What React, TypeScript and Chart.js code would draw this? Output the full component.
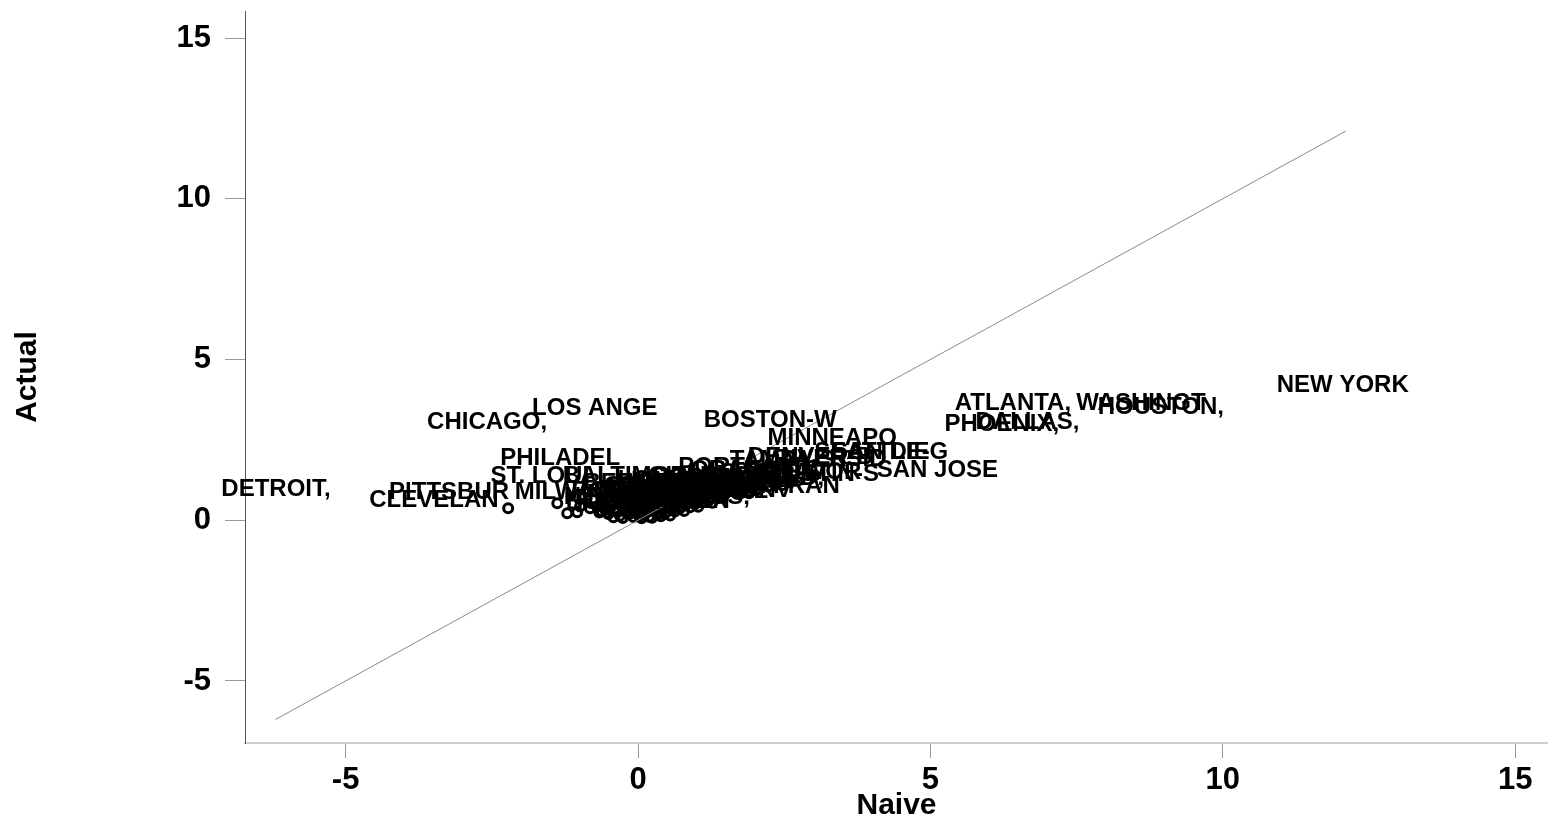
import React, { useEffect, useRef } from 'react';
import { Chart, registerables } from 'chart.js';

Chart.register(...registerables);

// labelled metro areas (names cut to 8 characters as in the source)
const cityNames = [
  'NEW YORK', 'HOUSTON,', 'WASHINGT', 'ATLANTA,', 'DALLAS,', 'PHOENIX,',
  'SAN JOSE', 'SAN DIEG', 'SEATTLE-', 'MINNEAPO', 'RIVERSID', 'DENVER-B',
  'TAMPA-ST', 'BOSTON-W', 'LOS ANGE', 'CHICAGO,', 'PHILADEL', 'ST. LOUI',
  'DETROIT,', 'PITTSBUR', 'CLEVELAN', 'MILWAUKE', 'BALTIMOR', 'PORTLAND',
  'AUSTIN-S', 'SAN FRAN', 'JACKSONV', 'KANSAS C', 'CHARLOTT', 'LAS VEGA',
  'ORLANDO,', 'SACRAMEN', 'COLUMBUS', 'INDIANAP', 'CINCINNA', 'SAN ANTO',
  'ORANGE C', 'NASSAU-S', 'NEWARK,', 'FORT WOR', 'OAKLAND,', 'NORFOLK-',
  'SALT LAK', 'RALEIGH-', 'NASHVILL', 'MIAMI, F', 'GREENSBO', 'HARTFORD',
  'BUFFALO-', 'PROVIDEN', 'ROCHESTE', 'MEMPHIS,', 'LOUISVIL', 'OKLAHOMA',
  'BERGEN-P',
];
const cityNaive = [
  12.05, 8.94, 8.6, 6.41, 6.66, 6.22,
  5.12, 4.31, 4.0, 3.32, 3.28, 2.95,
  2.6, 2.26, -0.74, -2.58, -1.33, -1.68,
  -6.19, -3.23, -3.49, -1.0, -0.22, 1.83,
  3.15, 2.39, 1.49, 0.95, 1.3, 1.9,
  1.6, 1.2, 0.6, 0.8, 0.4, 1.1,
  2.0, 0.2, -0.3, 2.7, 2.1, 0.5,
  1.4, 1.8, 1.2, 0.3, 0.7, 0.1,
  -0.2, 0.5, 0.0, 0.9, 0.6, 0.85,
  0.15,
];
const cityActual = [
  4.19, 3.5, 3.62, 3.63, 3.05, 2.98,
  1.55, 2.12, 2.1, 2.55, 1.9, 1.95,
  1.86, 3.1, 3.48, 3.04, 1.93, 1.37,
  0.96, 0.87, 0.62, 0.87, 1.37, 1.65,
  1.43, 1.06, 0.93, 1.2, 1.35, 1.45,
  1.3, 1.1, 1.05, 1.15, 0.95, 0.95,
  1.55, 0.8, 0.7, 1.5, 1.3, 0.75,
  1.15, 1.2, 0.9, 1.0, 0.85, 0.6,
  0.55, 0.6, 0.9, 0.7, 1.25, 1.05,
  1.15,
];

// unlabelled metro areas, drawn as hollow circles
const otherNaive = [
  -2.22, -1.38, -1.21, -1.04, -0.99, -0.82, -0.7, -0.62, -0.51, -0.44,
  -0.31, -0.17, 0.02, 0.11, 0.19, 0.33, 0.46,
  -0.56, -0.41, -0.22, -0.06, 0.09, 0.27, 0.38, 0.57, 0.71,
  -0.6, -0.46, -0.28, -0.11, 0.06, 0.21, 0.36, 0.52, 0.64, 0.81, 0.97,
  -0.49, -0.34, -0.19, 0.01, 0.16, 0.31, 0.44, 0.61, 0.77, 0.92, 1.06, 1.21,
  -0.38, -0.24, -0.09, 0.12, 0.26, 0.42, 0.56, 0.69, 0.86, 1.01, 1.14, 1.32, 1.47,
  -0.28, -0.12, 0.04, 0.22, 0.41, 0.58, 0.79, 0.98, 1.19, 1.38, 1.62, 1.81, 2.03,
  0.03, 0.24, 0.47, 0.68, 0.96, 1.18, 1.44, 1.71, 1.93, 2.22, 2.46,
  0.33, 0.62, 0.88, 1.16, 1.43, 1.77, 2.04, 2.36, 2.63,
  0.91, 1.27, 1.58, 1.96, 2.31, 2.67, 3.02,
  -0.42, -0.26, -0.08, 0.06, 0.24, 0.39, 0.55,
  -0.66, -0.5, -0.35, -0.13, 0.03, 0.17, 0.32, 0.48, 0.63, 0.79,
  -0.53, -0.37, -0.18, -0.02, 0.14, 0.29, 0.43, 0.6, 0.74, 0.89, 1.03,
  -0.43, -0.27, -0.06, 0.08, 0.23, 0.4, 0.55, 0.7, 0.84, 1.0, 1.13, 1.27,
  -0.33, -0.15, 0.03, 0.19, 0.35, 0.5, 0.66, 0.81, 0.95, 1.1, 1.25, 1.4,
  -0.2, 0.0, 0.15, 0.32, 0.5, 0.68, 0.88, 1.08, 1.28, 1.5, 1.7, 1.9,
];
const otherActual = [
  0.37, 0.53, 0.22, 0.25, 0.43, 0.37, 0.43, 0.28, 0.19, 0.47,
  0.14, 0.18, 0.12, 0.16, 0.11, 0.17, 0.21,
  0.32, 0.29, 0.34, 0.27, 0.31, 0.3, 0.26, 0.33, 0.36,
  0.46, 0.43, 0.47, 0.44, 0.48, 0.42, 0.45, 0.49, 0.44, 0.47, 0.5,
  0.58, 0.62, 0.59, 0.61, 0.57, 0.63, 0.6, 0.58, 0.62, 0.6, 0.64, 0.61,
  0.73, 0.76, 0.74, 0.72, 0.77, 0.75, 0.73, 0.78, 0.74, 0.76, 0.79, 0.75, 0.78,
  0.88, 0.91, 0.87, 0.92, 0.89, 0.9, 0.93, 0.88, 0.91, 0.94, 0.9, 0.93, 0.95,
  1.04, 1.02, 1.07, 1.05, 1.03, 1.06, 1.08, 1.04, 1.07, 1.05, 1.09,
  1.19, 1.22, 1.18, 1.21, 1.23, 1.2, 1.24, 1.21, 1.25,
  1.34, 1.37, 1.35, 1.38, 1.36, 1.39, 1.4,
  0.09, 0.07, 0.1, 0.06, 0.08, 0.12, 0.15,
  0.24, 0.22, 0.25, 0.21, 0.23, 0.26, 0.22, 0.25, 0.27, 0.29,
  0.38, 0.36, 0.39, 0.37, 0.4, 0.35, 0.38, 0.39, 0.41, 0.4, 0.42,
  0.53, 0.51, 0.55, 0.52, 0.54, 0.5, 0.53, 0.56, 0.52, 0.55, 0.57, 0.54,
  0.67, 0.69, 0.66, 0.68, 0.7, 0.67, 0.69, 0.66, 0.7, 0.68, 0.71, 0.69,
  0.82, 0.84, 0.81, 0.83, 0.85, 0.82, 0.84, 0.86, 0.83, 0.85, 0.87, 0.84,
];

// 45-degree reference line
const diagonalEnds = [-6.2, 12.1];

const xTicks = [-5, 0, 5, 10, 15];
const yTicks = [-5, 0, 5, 10, 15];
const xRange = [-6.72, 15.56];
const yRange = [-6.93, 15.84];

const labelFont = 'bold 24px "Liberation Sans", Arial, sans-serif';

const cityLabels = {
  id: 'cityLabels',
  afterDatasetsDraw(chart: Chart) {
    const meta = chart.getDatasetMeta(1);
    const ctx = chart.ctx;
    ctx.save();
    ctx.font = labelFont;
    ctx.fillStyle = '#000';
    ctx.textAlign = 'center';
    ctx.textBaseline = 'middle';
    meta.data.forEach((pt: any, i: number) => {
      ctx.fillText(cityNames[i], pt.x, pt.y);
    });
    ctx.restore();
  },
};

// keep tick labels from pushing the plot area in
const noPadding = (s: any) => {
  s.paddingTop = 0;
  s.paddingBottom = 0;
  s.paddingLeft = 0;
  s.paddingRight = 0;
};

export default function App() {
  const canvasRef = useRef<HTMLCanvasElement>(null);

  useEffect(() => {
    if (!canvasRef.current) return;
    const tickFont = { family: '"Liberation Sans", Arial, sans-serif', size: 31, weight: 'bold' as const };
    const titleFont = { family: '"Liberation Sans", Arial, sans-serif', size: 30, weight: 'bold' as const };

    const chart = new Chart(canvasRef.current, {
      type: 'scatter',
      data: {
        datasets: [
          {
            label: 'Actual = Naive',
            data: diagonalEnds.map((v) => ({ x: v, y: v })),
            showLine: true,
            borderColor: '#8a8a8a',
            borderWidth: 1,
            pointRadius: 0,
          },
          {
            label: 'cities',
            data: cityNaive.map((x, i) => ({ x, y: cityActual[i] })),
            pointRadius: 0,
          },
          {
            label: 'others',
            data: otherNaive.map((x, i) => ({ x, y: otherActual[i] })),
            pointStyle: 'circle',
            pointRadius: 4.5,
            borderWidth: 3,
            borderColor: '#000',
            backgroundColor: 'rgba(0,0,0,0)',
          },
        ],
      },
      options: {
        animation: false,
        responsive: false,
        events: [],
        layout: { autoPadding: false, padding: { top: 11, right: 0, left: 0, bottom: 0 } },
        plugins: {
          legend: { display: false },
          tooltip: { enabled: false },
        },
        scales: {
          x: {
            type: 'linear',
            min: xRange[0],
            max: xRange[1],
            afterBuildTicks: (s: any) => {
              s.ticks = xTicks.map((value) => ({ value }));
            },
            afterFit: (s: any) => {
              s.height = 85;
              noPadding(s);
            },
            ticks: { font: tickFont, color: '#000', padding: 4, maxRotation: 0 },
            grid: { drawOnChartArea: false, tickLength: 15, tickColor: '#999', tickWidth: 1 },
            border: { color: '#cfcfcf', width: 2 },
            title: { display: true, text: 'Naive', font: titleFont, color: '#000', padding: { top: 0, bottom: 4 } },
          },
          y: {
            type: 'linear',
            min: yRange[0],
            max: yRange[1],
            afterBuildTicks: (s: any) => {
              s.ticks = yTicks.map((value) => ({ value }));
            },
            afterFit: (s: any) => {
              s.width = 245;
              noPadding(s);
            },
            ticks: { font: tickFont, color: '#000', padding: 14 },
            grid: { drawOnChartArea: false, tickLength: 20, tickColor: '#999', tickWidth: 1 },
            border: { color: '#555', width: 1 },
            title: { display: true, text: 'Actual', font: titleFont, color: '#000', padding: { top: 10, bottom: 0 } },
          },
        },
      },
      plugins: [cityLabels],
    });

    return () => chart.destroy();
  }, []);

  return (
    <div style={{ position: 'fixed', left: 0, top: 0, width: 1548, height: 828, background: '#fff' }}>
      <canvas ref={canvasRef} width={1548} height={828} style={{ width: 1548, height: 828 }} />
    </div>
  );
}
